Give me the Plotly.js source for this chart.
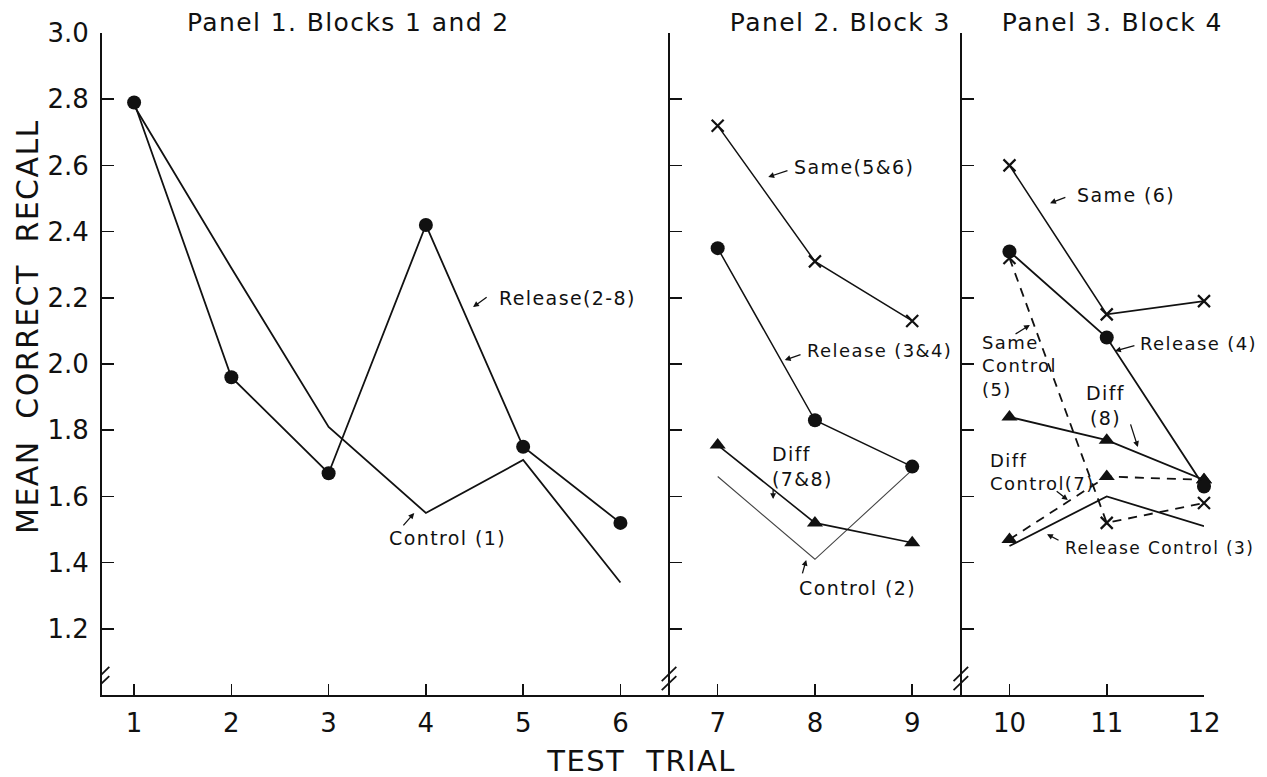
<!DOCTYPE html>
<html>
<head>
<meta charset="utf-8">
<script src="https://cdn.plot.ly/plotly-3.0.1.min.js"></script>
<style>
html,body{margin:0;padding:0;background:#fff;}
#chart{width:1267px;height:777px;}
#chart .annotation-text{letter-spacing:1.4px;}
</style>
</head>
<body>
<div id="chart"></div>
<script>
// ---- data ----
const trialsP1 = [1, 2, 3, 4, 5, 6];
const releaseP1 = [2.79, 1.96, 1.67, 2.42, 1.75, 1.52];
const control1 = [2.78, 2.29, 1.81, 1.55, 1.71, 1.34];

const trialsP2 = [7, 8, 9];
const sameP2 = [2.72, 2.31, 2.13];
const releaseP2 = [2.35, 1.83, 1.69];
const diffP2 = [1.755, 1.52, 1.46];
const control2 = [1.66, 1.41, 1.68];

const trialsP3 = [10, 11, 12];
const sameP3 = [2.60, 2.15, 2.19];
const releaseP3 = [2.34, 2.08, 1.63];
const sameControl5 = [2.32, 1.52, 1.58];
const diffP3 = [1.84, 1.77, 1.65];
const diffControl7 = [1.47, 1.66, 1.65];
const releaseControl3 = [1.45, 1.60, 1.51];

const xTicks = [1, 2, 3, 4, 5, 6, 7, 8, 9, 10, 11, 12];
const yTicks = [1.2, 1.4, 1.6, 1.8, 2.0, 2.2, 2.4, 2.6, 2.8, 3.0];
const yTickText = ['1.2', '1.4', '1.6', '1.8', '2.0', '2.2', '2.4', '2.6', '2.8', '3.0'];

const panelTitles = ['Panel 1. Blocks 1 and 2', 'Panel 2. Block 3', 'Panel 3. Block 4'];

// ---- styling ----
const FONT = 'DejaVu Sans, Liberation Sans, sans-serif';
const BLACK = '#111';
const X_MIN = 0.67, X_MAX = 12;
const Y_MIN = 1.0, Y_MAX = 3.0;
const panelAxisX = [X_MIN, 6.5, 9.5];

function line(x, y, yaxis, opts) {
  opts = opts || {};
  return {
    type: 'scatter', x: x, y: y, yaxis: yaxis,
    mode: opts.marker ? 'lines+markers' : 'lines',
    line: {color: opts.color || BLACK, width: opts.width || 1.8, dash: opts.dash || 'solid'},
    marker: opts.marker || {},
    hoverinfo: 'skip', showlegend: false, cliponaxis: false
  };
}
const dot = {symbol: 'circle', size: 14, color: BLACK};
const tri = {symbol: 'triangle-up', size: 14, color: BLACK};
const cross = {symbol: 'x-thin-open', size: 12, color: BLACK, line: {width: 2.2, color: BLACK}};

const data = [
  line(trialsP1, control1, 'y'),
  line(trialsP1, releaseP1, 'y', {marker: dot}),

  line(trialsP2, control2, 'y2', {width: 1.1, color: '#444'}),
  line(trialsP2, sameP2, 'y2', {width: 1.5, marker: cross}),
  line(trialsP2, releaseP2, 'y2', {width: 1.5, marker: dot}),
  line(trialsP2, diffP2, 'y2', {width: 1.6, marker: tri}),

  line(trialsP3, releaseControl3, 'y3', {width: 1.8}),
  line(trialsP3, diffControl7, 'y3', {dash: '9px,7px', marker: tri}),
  line(trialsP3, sameControl5, 'y3', {dash: '9px,7px', marker: cross}),
  line(trialsP3, diffP3, 'y3', {marker: tri}),
  line(trialsP3, sameP3, 'y3', {width: 1.6, marker: cross}),
  line(trialsP3, releaseP3, 'y3', {marker: dot})
];

function paperPos(x) { return (x - X_MIN) / (X_MAX - X_MIN); }

const yBase = {
  range: [Y_MIN, Y_MAX], tickvals: yTicks, ticktext: yTickText,
  ticks: 'inside', ticklen: 12, tickwidth: 1.6, tickcolor: BLACK,
  showline: true, linecolor: BLACK, linewidth: 2, showgrid: false, zeroline: false,
  fixedrange: true
};

const layout = {
  width: 1267, height: 777,
  margin: {l: 102, r: 63, t: 33, b: 82},
  paper_bgcolor: '#fff', plot_bgcolor: '#fff',
  font: {family: FONT, color: BLACK},
  showlegend: false,
  xaxis: {
    range: [X_MIN, X_MAX], tickvals: xTicks, ticks: 'inside', ticklen: 11, tickwidth: 1.6,
    tickcolor: BLACK, showline: true, linecolor: BLACK, linewidth: 2, showgrid: false,
    zeroline: false, tickfont: {size: 26, family: FONT}, ticklabelstandoff: 4, fixedrange: true
  },
  yaxis: Object.assign({}, yBase, {tickfont: {size: 26, family: FONT}, ticklabelstandoff: 6}),
  yaxis2: Object.assign({}, yBase, {overlaying: 'y', anchor: 'free', position: paperPos(panelAxisX[1]), showticklabels: false}),
  yaxis3: Object.assign({}, yBase, {overlaying: 'y', anchor: 'free', position: paperPos(panelAxisX[2]), showticklabels: false}),
  shapes: [],
  annotations: []
};

// axis-break marks "//" at the foot of each vertical axis
panelAxisX.forEach(function (ax) {
  [[1.015, 1.057], [1.042, 1.085]].forEach(function (s) {
    layout.shapes.push({type: 'line', xref: 'x', yref: 'y', x0: ax - 0.075, x1: ax + 0.075,
      y0: s[0], y1: s[1], line: {color: BLACK, width: 1.8}});
  });
});

// panel titles
const titleX = [3.20, 8.26, 11.06];
panelTitles.forEach(function (t, i) {
  layout.annotations.push({text: t, xref: 'x', yref: 'paper', x: titleX[i], y: 1.0166,
    xanchor: 'center', yanchor: 'middle', showarrow: false, font: {size: 25, family: FONT}});
});

// axis titles
layout.annotations.push({text: 'MEAN  CORRECT  RECALL', xref: 'paper', yref: 'paper',
  x: -0.0669, y: 0.556, textangle: -90, xanchor: 'center', yanchor: 'middle', showarrow: false,
  font: {size: 30, family: FONT}});
layout.annotations.push({text: 'TEST  TRIAL', xref: 'paper', yref: 'paper',
  x: 0.4888, y: -0.0997, xanchor: 'center', yanchor: 'middle', showarrow: false,
  font: {size: 29, family: FONT}});

// curve labels
const labels = [
  {t: 'Release(2-8)', x: 4.73, y: 2.20, a: 'left', s: 19},
  {t: 'Control (1)', x: 3.60, y: 1.474, a: 'left', s: 19},
  {t: 'Same(5&6)', x: 7.765, y: 2.595, a: 'left', s: 19},
  {t: 'Release (3&4)', x: 7.90, y: 2.042, a: 'left', s: 18},
  {t: 'Diff<br>(7&8)', x: 7.54, y: 1.689, a: 'left', s: 19},
  {t: 'Control (2)', x: 7.816, y: 1.323, a: 'left', s: 19},
  {t: 'Same (6)', x: 10.674, y: 2.511, a: 'left', s: 19},
  {t: 'Release (4)', x: 11.32, y: 2.063, a: 'left', s: 18},
  {t: 'Same<br>Control<br>(5)', x: 9.697, y: 1.994, a: 'left', s: 18},
  {t: 'Diff<br>(8)', x: 10.993, y: 1.876, a: 'center', s: 19},
  {t: 'Diff<br>Control(7)', x: 9.78, y: 1.674, a: 'left', s: 18},
  {t: 'Release Control (3)', x: 10.55, y: 1.444, a: 'left', s: 17}
];
labels.forEach(function (l) {
  layout.annotations.push({text: l.t, xref: 'x', yref: 'y', x: l.x, y: l.y, xanchor: l.a,
    yanchor: 'middle', align: l.a, showarrow: false, font: {size: l.s, family: FONT}});
});

// pointer arrows [tailX, tailY, tipX, tipY]
const arrows = [
  [4.64, 2.205, 4.485, 2.172],
  [3.755, 1.508, 3.88, 1.55],
  [7.733, 2.586, 7.52, 2.565],
  [7.867, 2.03, 7.69, 2.012],
  [7.57, 1.625, 7.57, 1.592],
  [7.867, 1.363, 7.91, 1.408],
  [10.59, 2.505, 10.417, 2.486],
  [11.30, 2.057, 11.085, 2.039],
  [10.047, 2.088, 10.21, 2.118],
  [11.24, 1.822, 11.32, 1.749],
  [10.47, 1.619, 10.60, 1.589],
  [10.52, 1.465, 10.386, 1.486]
];
arrows.forEach(function (a) {
  layout.annotations.push({text: '', xref: 'x', yref: 'y', axref: 'x', ayref: 'y',
    ax: a[0], ay: a[1], x: a[2], y: a[3], showarrow: true, arrowhead: 2, arrowsize: 0.9,
    arrowwidth: 1.3, arrowcolor: BLACK, standoff: 0, startstandoff: 0});
});

Plotly.newPlot('chart', data, layout, {displayModeBar: false, staticPlot: true});
</script>
</body>
</html>
